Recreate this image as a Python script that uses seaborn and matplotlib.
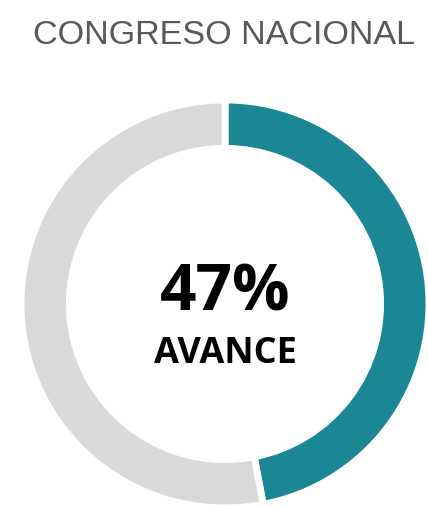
import matplotlib.pyplot as plt
import seaborn as sns

# Datos del gráfico
labels = ['Avance', 'Pendiente']
values = [47, 53]
colors = ['#1b8794', '#d9d9d9']
title = 'CONGRESO NACIONAL'
pct_label = '47%'
sub_label = 'AVANCE'

sns.set_style('white')

fig = plt.figure(figsize=(4.28, 5.07), dpi=100)

# Title
fig.text(0.523, 0.935 - 0.005, title, ha='center', va='center', fontsize=24.6,
         color='#595959', family=['Liberation Sans', 'DejaVu Sans'])

# Donut axes
ax = fig.add_axes([0.0537, 0.002, 0.944, 0.797])
ax.pie(values, colors=colors, startangle=90, counterclock=False,
       radius=1.01,
       wedgeprops=dict(width=0.24, edgecolor='white', linewidth=5))
ax.set_xlim(-1, 1)
ax.set_ylim(-1, 1)
ax.set_aspect('equal')
ax.axis('off')

ax.text(0, 0.05, pct_label, ha='center', va='center', fontsize=46,
        fontweight='bold', color='black', family=['Open Sans', 'DejaVu Sans'])
ax.text(0, -0.25, sub_label, ha='center', va='center', fontsize=26,
        fontweight='bold', color='black', family=['Open Sans', 'DejaVu Sans'])

fig.savefig('out.png', dpi=100)
